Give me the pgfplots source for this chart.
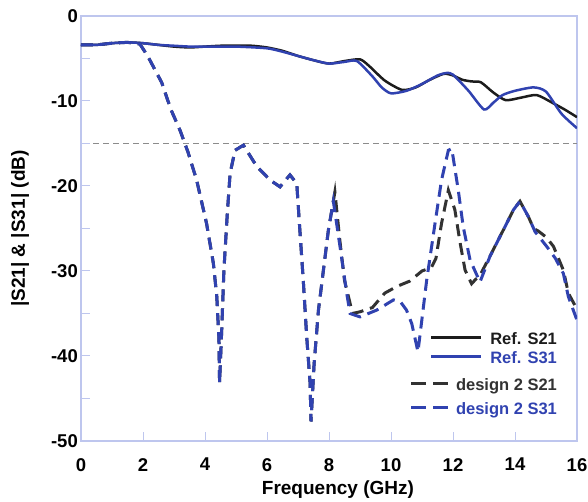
\documentclass[border=0pt]{standalone}
\usepackage{fontspec}
\setmainfont{Liberation Sans}
\usepackage{pgfplots}
\pgfplotsset{compat=1.18}
\definecolor{refblue}{RGB}{48,66,176}
\definecolor{refblack}{RGB}{28,28,28}
\definecolor{dgray}{RGB}{50,50,50}
\definecolor{axc}{RGB}{190,198,238}
\definecolor{hgray}{RGB}{140,140,140}
\newcommand{\solidimg}[1]{\textcolor{#1}{\rule[0.33em]{50pt}{2.6pt}}\hspace{9pt}}
\newcommand{\dashimg}[1]{\textcolor{#1}{\rule[0.33em]{15pt}{3pt}\hspace{7pt}\rule[0.33em]{15pt}{3pt}}\hspace{8pt}}
\begin{document}
\begin{tikzpicture}
\begin{axis}[
  scale only axis, width=496pt, height=425pt,
  xmin=0, xmax=16, ymin=-50, ymax=0,
  xtick={0,2,...,16}, ytick={0,-10,...,-50},
  minor ytick={-5,-15,-25,-35,-45},
  tick align=inside, xtick pos=bottom, ytick pos=left,
  major tick length=9pt, minor tick length=9pt,
  every tick/.style={axc, line width=1pt},
  axis line style={axc, line width=1.2pt},
  /pgf/number format/assume math mode=true,
  ticklabel style={font=\fontsize{18.5}{20}\selectfont\bfseries},
  xticklabel style={inner ysep=0pt, yshift=-17pt},
  yticklabel style={inner xsep=3pt},
  xlabel={Frequency (GHz)}, ylabel={|S21| \& |S31| (dB)},
  label style={font=\fontsize{19}{22}\selectfont\bfseries},
  xlabel style={at={(axis description cs:0.518,-0.115)}, anchor=center},
  ylabel style={at={(axis description cs:-0.123,0.5)}, anchor=center, rotate=0},
  legend image code/.code={},
  legend cell align=right,
  legend style={at={(axis cs:15.39,-36.82)}, anchor=north east, draw=none, fill=none,
    inner sep=0pt, row sep=2pt, nodes={inner sep=1pt},
    font=\fontsize{16.5}{19.8}\selectfont\bfseries},
]
\addplot[hgray, line width=1.2pt, dash pattern=on 6pt off 4pt, forget plot] coordinates {(0.39,-15) (16,-15)};
% Ref S21
\addplot[refblack, line width=2.5pt, smooth, tension=0.4] coordinates {
(0,-3.4)(0.5,-3.4)(1,-3.2)(1.5,-3.1)(2,-3.2)(2.5,-3.4)(3,-3.6)(3.5,-3.7)(4,-3.6)(4.5,-3.5)(5,-3.5)(5.5,-3.5)(6,-3.7)(6.5,-4.1)(7,-4.7)(7.5,-5.2)(8,-5.6)(8.5,-5.3)(9,-5.1)(9.3,-5.9)(9.8,-7.6)(10.36,-8.7)(10.8,-8.4)(11.2,-7.6)(11.7,-6.8)(12,-7.0)(12.3,-7.5)(12.6,-7.7)(12.9,-7.8)(13.3,-9.0)(13.7,-9.9)(14.2,-9.6)(14.7,-9.3)(15.2,-10.2)(15.6,-11.0)(16,-11.9)};
% Ref S31
\addplot[refblue, line width=2.5pt, smooth, tension=0.4] coordinates {
(0,-3.4)(0.5,-3.4)(1,-3.2)(1.5,-3.1)(2,-3.2)(2.5,-3.4)(3,-3.5)(3.5,-3.6)(4,-3.6)(5,-3.6)(6,-3.8)(6.5,-4.2)(7,-4.7)(7.5,-5.2)(8,-5.6)(8.5,-5.4)(8.9,-5.3)(9.4,-7.1)(9.7,-8.4)(10,-9.1)(10.5,-8.8)(11,-8.0)(11.5,-7.0)(11.8,-6.7)(12,-6.9)(12.5,-8.8)(13,-11.0)(13.3,-10.2)(13.6,-9.3)(14,-8.8)(14.6,-8.4)(15,-8.9)(15.5,-11.5)(16,-13.2)};
% design 2 S21
\addplot[dgray, line width=3pt, dash pattern=on 12pt off 7pt] coordinates {
(0,-3.4)(0.5,-3.4)(1,-3.2)(1.5,-3.1)(1.9,-3.3)(2.15,-4.7)(2.6,-7.8)(2.9,-11)(3.2,-13.5)(3.45,-16)(3.73,-19.3)(4.05,-24.4)(4.27,-29.1)(4.38,-33)(4.45,-38)(4.47,-43.2)(4.54,-36.9)(4.61,-29.9)(4.72,-23.2)(4.81,-18.5)(4.97,-15.8)(5.24,-15.2)(5.67,-17.7)(6.1,-19.3)(6.42,-20.1)(6.74,-18.7)(6.96,-19.7)(7.06,-25.2)(7.17,-31.1)(7.28,-37.7)(7.39,-43.2)(7.42,-47.7)(7.52,-40.9)(7.66,-34.6)(7.82,-29.9)(7.98,-25.2)(8.19,-20.7)(8.35,-26.4)(8.5,-31.1)(8.68,-33.8)(8.75,-35)(9.0,-34.8)(9.4,-34.3)(9.8,-32.6)(10.2,-31.8)(10.6,-31.2)(11.0,-30.0)(11.3,-29.6)(11.45,-28.5)(11.63,-24.4)(11.85,-20.5)(12.06,-22.8)(12.23,-26.7)(12.39,-29.9)(12.6,-31.5)(12.9,-30.3)(13.2,-28.2)(13.62,-25.2)(13.95,-22.8)(14.16,-21.8)(14.43,-23.6)(14.6,-25.0)(14.75,-25.3)(15.0,-26.0)(15.24,-27.1)(15.56,-29.9)(15.72,-32.6)(16,-34.5)};
% design 2 S31
\addplot[refblue, line width=3pt, dash pattern=on 12pt off 7pt] coordinates {
(0,-3.4)(0.5,-3.4)(1,-3.2)(1.5,-3.1)(1.9,-3.3)(2.15,-4.7)(2.6,-7.8)(2.9,-11)(3.2,-13.5)(3.45,-16)(3.73,-19.3)(4.05,-24.4)(4.27,-29.1)(4.38,-33)(4.45,-38)(4.47,-43.2)(4.54,-36.9)(4.61,-29.9)(4.72,-23.2)(4.81,-18.5)(4.97,-15.8)(5.24,-15.2)(5.67,-17.7)(6.1,-19.3)(6.42,-20.1)(6.74,-18.7)(6.96,-19.7)(7.06,-25.2)(7.17,-31.1)(7.28,-37.7)(7.39,-43.2)(7.42,-47.7)(7.52,-40.9)(7.66,-34.6)(7.82,-29.9)(7.98,-25.2)(8.14,-21.8)(8.35,-27)(8.57,-32.6)(8.68,-35.0)(9.0,-35.4)(9.54,-34.6)(10.08,-33.4)(10.3,-33.6)(10.5,-34.6)(10.67,-36.2)(10.87,-39.5)(11.15,-31.1)(11.42,-24.4)(11.63,-19.3)(11.85,-15.8)(11.96,-15.6)(12.17,-20.5)(12.33,-24.8)(12.55,-28.7)(12.87,-31.3)(13.19,-28.3)(13.62,-25.2)(13.95,-22.8)(14.16,-21.8)(14.43,-23.6)(14.65,-25.4)(15.02,-27.1)(15.3,-28.5)(15.56,-30.3)(15.72,-33.0)(16,-35.8)};
\legend{\strut\solidimg{refblack}\textcolor{refblack}{Ref. S21},
        \strut\solidimg{refblue}\textcolor{refblue}{Ref. S31},
        \rule{0pt}{21.86pt}\dashimg{dgray}\textcolor{dgray}{design 2 S21},
        \rule{0pt}{17.86pt}\strut\dashimg{refblue}\textcolor{refblue}{design 2 S31}}
\end{axis}
\pgfresetboundingbox
\path ([shift={(-81pt,-61pt)}]current axis.south west) rectangle ([shift={(11pt,16pt)}]current axis.north east);
\end{tikzpicture}
\end{document}
